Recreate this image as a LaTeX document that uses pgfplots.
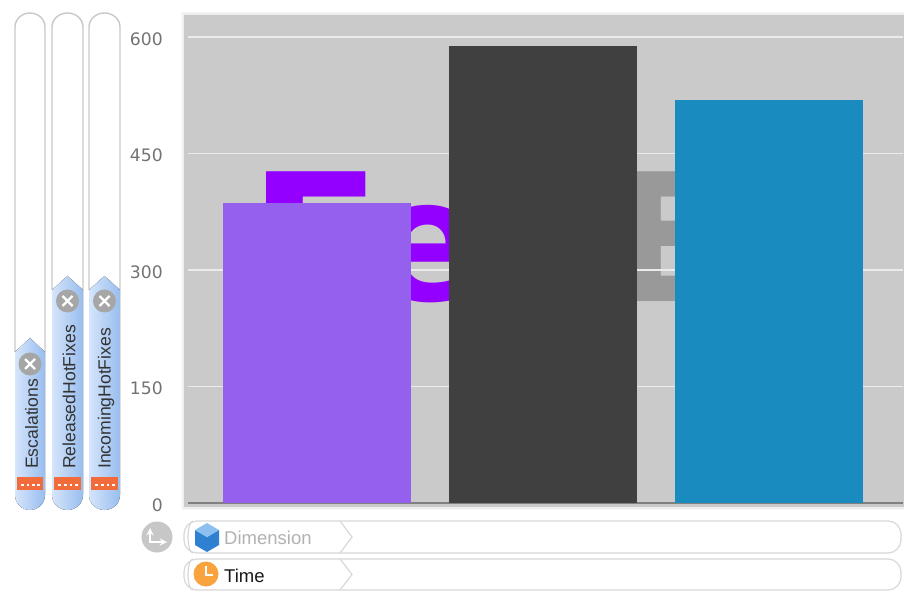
\documentclass[border=0pt]{standalone}
\usepackage{pgfplots}
\pgfplotsset{compat=1.18}
\usepackage{fontspec}
\setmainfont{DejaVu Sans}
\newfontfamily\lib{Liberation Sans}
\definecolor{plotbg}{HTML}{CACACA}
\definecolor{wmp}{HTML}{9400FF}
\definecolor{wmg}{HTML}{999999}
\definecolor{barp}{HTML}{9560EE}
\definecolor{bard}{HTML}{404040}
\definecolor{barb}{HTML}{1A8BBF}
\definecolor{pillL}{HTML}{D5E5FB}
\definecolor{pillR}{HTML}{98BDEE}
\definecolor{closeg}{HTML}{A6A6A6}
\definecolor{oran}{HTML}{F26B3A}
\definecolor{trk}{HTML}{C8C8C8}
\definecolor{cubeD}{HTML}{2F80D0}
\definecolor{cubeL}{HTML}{8DC0F0}
\definecolor{clockO}{HTML}{F8A33E}
\newcommand\pill[5]{% x0, x1, shoulder y, label, close-button y
  \draw[trk,line width=1.4pt,fill=white] (#1,#3) -- (#1,27) arc[start angle=180,end angle=360,x radius={(#2-#1)/2},y radius=14] -- (#2,#3);
  \fill[left color=pillL,right color=pillR] (#1,#3) -- ({(#1+#2)/2},{#3-14}) -- (#2,#3) -- (#2,495) arc[start angle=0,end angle=180,x radius={(#2-#1)/2},y radius=15] -- cycle;
  \fill[oran] (#1+2,477) rectangle (#2-2,490);
  \foreach \d in {0.2,0.42,0.62,0.82}{\fill[white] ({#1+2+\d*(#2-#1-4)-1},484) rectangle ++(2.4,2.4);}
  \node[rotate=90,anchor=west,inner sep=0pt,text=black!80] at ({(#1+#2)/2+1.5},469) {\lib\fontsize{17.6}{18}\selectfont #4};
  \fill[closeg] ({(#1+#2)/2},#5) circle (11.5);
  \draw[white,line width=2.4pt] ({(#1+#2)/2-5},#5-5) -- ({(#1+#2)/2+5},#5+5) ({(#1+#2)/2-5},#5+5) -- ({(#1+#2)/2+5},#5-5);
}
\newcommand\track[2]{% top, bottom
  \draw[trk!70,line width=1.2pt,fill=white,rounded corners=13pt] (184,#1) rectangle (901,#2);
  \draw[trk!70,line width=1.2pt] (340,#1) -- (352,{(#1+#2)/2}) -- (340,#2);
  \draw[trk!70,line width=1.2pt] (193,#1) arc[start angle=270,end angle=90,x radius=5,y radius={(#2-#1)/2}];
}
\begin{document}
\begin{tikzpicture}
\useasboundingbox (0,0) rectangle (904pt,592pt);
\fill[white] (0,0) rectangle (904pt,592pt);
\begin{scope}[x=1pt,y=-1pt,yshift=592pt]
  \fill[black!3] (181,12) rectangle (904,510);
  \fill[black!7] (182.5,13) rectangle (904,508.5);
  \fill[plotbg] (184,15) rectangle (904,507);
  \node[anchor=base west,inner sep=0pt,text=wmp,xscale=1.1] at (248,302) {\fontsize{178}{190}\selectfont\bfseries F};
  \node[anchor=base west,inner sep=0pt,text=wmp] at (369.5,300.5) {\fontsize{170}{190}\selectfont\bfseries e};
  \node[anchor=base west,inner sep=0pt,text=wmg] at (611,301.5) {\fontsize{178}{190}\selectfont\bfseries E};
\end{scope}
\begin{axis}[
  at={(188pt,89pt)}, anchor=south west,
  scale only axis, width=715pt, height=489pt,
  xmin=-0.574, xmax=2.596, ymin=0, ymax=629.6,
  axis x line=bottom, axis y line=left,
  x axis line style={draw=black!50,line width=1.6pt,-},
  y axis line style={draw=none,-},
  xtick=\empty, ytick={0,150,300,450,600},
  major tick length=0pt,
  ymajorgrids, grid style={draw=white!92!black,line width=1.3pt},
  /pgf/number format/assume math mode=true,
  tick label style={font=\fontsize{17.2}{18}\selectfont,text=black!55},
  y tick label style={anchor=east,inner sep=0pt,xshift=-25pt,yshift=-2pt},
  ybar, bar shift=0pt, bar width=188pt,
  clip=false,
]
\addplot[draw=none,fill=barp] coordinates {(0,386)};
\addplot[draw=none,fill=bard] coordinates {(1,588)};
\addplot[draw=none,fill=barb] coordinates {(2,519)};
\end{axis}
\begin{scope}[x=1pt,y=-1pt,yshift=592pt]
  \pill{15}{45}{352}{Escalations}{364}
  \pill{52}{83}{290}{ReleasedHotFixes}{301}
  \pill{89}{120}{290}{IncomingHotFixes}{301}
  % refresh button
  \fill[black!22] (157,537) circle (15.5);
  \draw[white,line width=2.2pt,<->,>=stealth] (150,528) -- (150,542) -- (167,542);
  \track{521}{553}
  \track{559}{590}
  % cube icon
  \fill[cubeD] (207,552) -- (195,545) -- (195,530) -- (207,537) -- (219,530) -- (219,545) -- cycle;
  \fill[cubeL] (207,523) -- (219,530) -- (207,537) -- (195,530) -- cycle;
  \node[anchor=base west,inner sep=0pt,text=black!30] at (224,544) {\lib\fontsize{18.5}{20}\selectfont Dimension};
  % clock icon
  \fill[clockO] (206,574) circle (12.5);
  \draw[white,line width=1.3pt] (206,566) -- (206,575) -- (213,575);
  \node[anchor=base west,inner sep=0pt,text=black!90] at (224,582) {\lib\fontsize{18.5}{20}\selectfont Time};
\end{scope}
\end{tikzpicture}
\end{document}
